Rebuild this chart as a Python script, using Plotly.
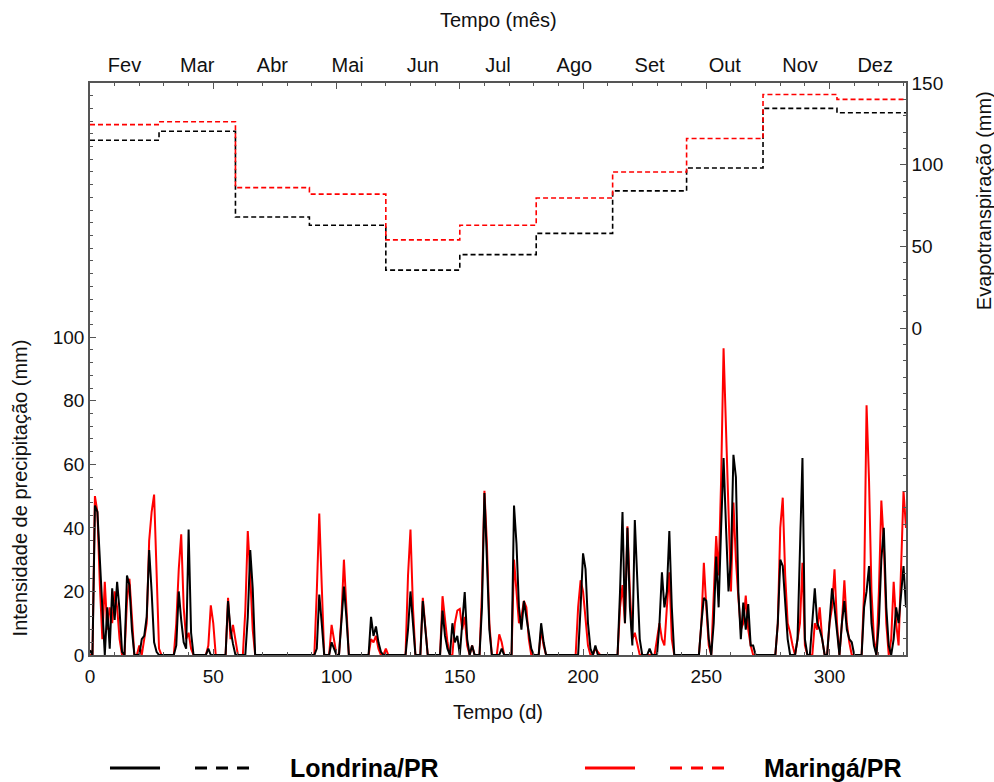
import plotly.graph_objects as go

# ---------------- data ----------------
days_range_end = 331

month_labels = ["Fev", "Mar", "Abr", "Mai", "Jun", "Jul", "Ago", "Set", "Out", "Nov", "Dez"]
month_start_day = [0, 28, 59, 89, 120, 150, 181, 212, 242, 273, 303]
month_end_day = 331

et_londrina = [115, 120.5, 68, 63, 35.5, 45, 58, 84, 98, 134.5, 131.8]
et_maringa = [124.5, 126.3, 86, 82, 54, 63, 79.6, 95.5, 116, 143, 140]

# daily precipitation (non-zero days), Londrina/PR
lon_days = [0, 2, 3, 4, 5, 7, 8, 9, 10, 11, 12, 13, 15, 16, 17, 21, 22, 23, 24, 25, 26, 27,
            35, 36, 37, 38, 39, 40, 41, 48, 56, 57, 58, 64, 65, 66, 92, 93, 94, 98, 99,
            102, 103, 104, 114, 115, 116, 117, 118, 129, 130, 131, 135, 136, 143, 144, 145,
            147, 148, 149, 151, 152, 153, 155, 159, 160, 161, 162, 167,
            172, 173, 174, 175, 176, 177, 178, 179, 183, 184,
            199, 200, 201, 202, 203, 205, 215, 216, 217, 218, 219, 220, 221, 222, 223, 227,
            231, 232, 233, 234, 235, 236, 248, 249, 250, 251,
            253, 254, 255, 256, 257, 258, 259, 260, 261, 262, 263, 264, 265, 266, 267, 268, 269,
            279, 280, 281, 282, 283, 287, 288, 289, 290, 293, 294, 295, 296, 297,
            300, 301, 302, 303, 305, 306, 307, 308, 309, 314, 315, 316, 317, 318,
            320, 321, 322, 323, 324, 326, 327, 328, 329, 330, 331]
lon_mm = [1.5, 47, 45, 30, 15, 15, 2, 21, 11, 23, 14, 1, 25, 22, 8, 5, 6, 12, 33, 20, 4, 1,
          3, 20, 11, 4, 2, 39.5, 7, 2, 17, 8, 3.5, 12, 33, 21, 2, 19, 10, 4, 2,
          10, 21.5, 12, 12, 6, 9, 4, 1, 8, 20, 10, 17, 8, 14, 6, 2,
          10, 4, 6, 10, 19.8, 5, 3, 15, 51, 30, 8, 2,
          47, 35, 15, 8, 17, 12, 8, 2, 10, 4,
          15, 32, 27, 10, 2, 3, 20, 45, 10, 40, 15, 3, 42.5, 25, 5, 2,
          10, 26, 15, 20, 39, 15, 10, 18, 17, 5,
          10, 31, 15, 40, 62, 40, 20, 30, 63, 56, 20, 5, 16.5, 8, 16, 3, 3,
          10, 30, 28, 15, 5, 5, 30, 62, 5, 10, 21, 10, 8, 5,
          10, 21, 15, 8, 10, 17, 8, 5, 4, 15, 20, 28, 10, 3,
          10, 30, 40, 15, 3, 5, 15, 10, 20, 28, 15]

# daily precipitation (non-zero days), Maringá/PR
mar_days = [2, 3, 4, 5, 6, 7, 8, 9, 10, 11, 12, 15, 16, 17, 20, 22, 23, 24, 25, 26, 27, 28,
            35, 36, 37, 38, 39, 40, 41, 48, 49, 50, 56, 57, 58, 59, 63, 64, 65, 66,
            92, 93, 94, 98, 99, 102, 103, 104, 114, 115, 116, 117, 120,
            129, 130, 131, 135, 136, 143, 144, 145, 148, 149, 150, 151, 152, 153, 155,
            159, 160, 161, 162, 166, 167, 172, 173, 174, 175, 176, 177, 178, 183, 184,
            198, 199, 200, 201, 202, 205, 206, 215, 216, 217, 218, 219, 220, 221, 222,
            230, 231, 232, 233, 234, 235, 236, 248, 249, 250, 251,
            253, 254, 255, 256, 257, 258, 259, 260, 261, 262, 263, 264, 265, 266, 267, 268,
            279, 280, 281, 282, 283, 284, 285, 287, 288, 289, 290, 294, 295, 296, 297,
            300, 301, 302, 303, 305, 306, 307, 308, 314, 315, 316, 317, 318,
            320, 321, 322, 323, 325, 326, 327, 328, 329, 330, 331]
mar_mm = [50, 45, 22, 5, 23, 8, 15, 10, 20, 15, 5, 17, 24, 10, 3, 5, 10, 36, 45, 50.5, 25, 2,
          10, 27, 38, 15, 5, 7, 2, 3, 15.6, 10, 18, 5, 9.5, 5, 14, 39, 25, 8,
          20, 44.5, 22, 9.5, 5, 12, 30, 15, 5, 4, 6, 2, 2,
          25, 39.5, 15, 18, 10, 18.5, 10, 4, 10, 14, 14.5, 8, 12, 3, 3,
          20, 51.7, 35, 10, 6.5, 4, 30, 20, 10, 12, 17, 15, 5, 8, 3,
          15, 23.5, 20, 12, 3, 2, 1, 15, 22, 10, 40.5, 20, 5, 7, 3,
          5, 10, 5, 3, 15, 26, 5, 10, 29, 15, 3,
          20, 37.4, 25, 55, 96.5, 71, 40, 20, 48, 30, 18, 8, 10, 18.7, 8, 3,
          10, 40, 49.5, 25, 10, 7, 3, 5, 10, 29, 3, 10, 8, 15, 5,
          10, 15, 27, 10, 10, 23.5, 10, 4, 20, 78.6, 55, 20, 5,
          20, 48.6, 35, 10, 5, 23, 10, 3, 25, 51.6, 40]

precip_ticks = [0, 20, 40, 60, 80, 100]
et_ticks = [0, 50, 100, 150]


def daily(days_nz, vals_nz, n):
    series = [0.0] * (n + 1)
    for d, v in zip(days_nz, vals_nz):
        series[d] = v
    return series


day_axis = list(range(days_range_end + 1))
lon_daily = daily(lon_days, lon_mm, days_range_end)
mar_daily = daily(mar_days, mar_mm, days_range_end)

step_x = month_start_day + [month_end_day]
lon_step = et_londrina + [et_londrina[-1]]
mar_step = et_maringa + [et_maringa[-1]]
month_centers = [(a + b) / 2 for a, b in zip(month_start_day, month_start_day[1:] + [334])]

# ---------------- figure ----------------
RED = "#ff0000"
BLACK = "#000000"
AXIS = "#555555"
FONT = "Liberation Sans, Arial, sans-serif"
TICK = 19
TITLE = 20

fig = go.Figure()

fig.add_trace(go.Scatter(x=day_axis, y=mar_daily, mode="lines",
                         line=dict(color=RED, width=2), showlegend=False))
fig.add_trace(go.Scatter(x=day_axis, y=lon_daily, mode="lines",
                         line=dict(color=BLACK, width=2), showlegend=False))

fig.add_trace(go.Scatter(x=step_x, y=lon_step, mode="lines", line_shape="hv",
                         line=dict(color=BLACK, width=1.6, dash="5px,3px"),
                         xaxis="x2", yaxis="y2", showlegend=False))
fig.add_trace(go.Scatter(x=step_x, y=mar_step, mode="lines", line_shape="hv",
                         line=dict(color=RED, width=1.6, dash="5px,3px"),
                         xaxis="x2", yaxis="y2", showlegend=False))

fig.update_layout(
    width=994, height=782,
    margin=dict(l=90, r=88, t=83, b=127, pad=0),
    paper_bgcolor="white", plot_bgcolor="white",
    font=dict(family=FONT, size=TICK, color="#111"),
    xaxis=dict(range=[0, days_range_end], tickmode="linear", tick0=0, dtick=50,
               ticks="inside", ticklen=6, tickwidth=1, tickcolor=AXIS,
               minor=dict(ticks="inside", tickmode="linear", tick0=0, dtick=10, ticklen=3,
                          tickcolor=AXIS, showgrid=False),
               showline=True, linecolor=AXIS, linewidth=1.5, mirror="ticks",
               showgrid=False, zeroline=False, tickfont=dict(size=TICK),
               ticklabelstandoff=3),
    xaxis2=dict(range=[0, days_range_end], overlaying="x", side="top", anchor="y",
                tickmode="array", tickvals=month_centers, ticktext=month_labels,
                ticks="", showline=False, showgrid=False, zeroline=False,
                tickfont=dict(size=TITLE), ticklabelstandoff=6),
    yaxis=dict(range=[0, 180], tickmode="array", tickvals=precip_ticks,
               ticks="inside", ticklen=6, tickcolor=AXIS,
               minor=dict(ticks="inside", tickmode="linear", tick0=0, dtick=4, ticklen=3,
                          tickcolor=AXIS, showgrid=False),
               showline=True, linecolor=AXIS, linewidth=1.5,
               showgrid=False, zeroline=False, tickfont=dict(size=TICK)),
    yaxis2=dict(range=[-200, 150], overlaying="y", side="right", anchor="x",
                tickmode="array", tickvals=et_ticks,
                ticks="inside", ticklen=6, tickcolor=AXIS,
                minor=dict(ticks="inside", tickmode="linear", tick0=0, dtick=10, ticklen=3,
                           tickcolor=AXIS, showgrid=False),
                showline=True, linecolor=AXIS, linewidth=1.5,
                showgrid=False, zeroline=False, tickfont=dict(size=TICK)),
)

annotations = [
    dict(text="Tempo (mês)", x=0.5, y=1.11, xref="paper", yref="paper",
         showarrow=False, font=dict(size=TITLE), xanchor="center", yanchor="middle"),
    dict(text="Tempo (d)", x=0.5, y=-0.0997, xref="paper", yref="paper",
         showarrow=False, font=dict(size=TITLE), xanchor="center", yanchor="middle"),
    dict(text="Intensidade de precipitação (mm)", x=-0.0858, y=0.293, xref="paper", yref="paper",
         showarrow=False, textangle=-90, font=dict(size=TITLE), xanchor="center", yanchor="middle"),
    dict(text="Evapotranspiração (mm)", x=1.0955, y=0.795, xref="paper", yref="paper",
         showarrow=False, textangle=-90, font=dict(size=TITLE), xanchor="center", yanchor="middle"),
    dict(text="<b>Londrina/PR</b>", x=0.2426, y=-0.1976, xref="paper", yref="paper",
         showarrow=False, font=dict(size=25, color="black"), xanchor="left", yanchor="middle"),
    dict(text="<b>Maringá/PR</b>", x=0.8235, y=-0.1976, xref="paper", yref="paper",
         showarrow=False, font=dict(size=25, color="black"), xanchor="left", yanchor="middle"),
]
fig.update_layout(annotations=annotations)

ly = -0.1976
shapes = [
    dict(type="line", xref="paper", yref="paper", x0=0.0245, x1=0.0858, y0=ly, y1=ly,
         line=dict(color=BLACK, width=3)),
    dict(type="line", xref="paper", yref="paper", x0=0.1287, x1=0.2022, y0=ly, y1=ly,
         line=dict(color=BLACK, width=3, dash="12px,9px")),
    dict(type="line", xref="paper", yref="paper", x0=0.6066, x1=0.6679, y0=ly, y1=ly,
         line=dict(color=RED, width=3)),
    dict(type="line", xref="paper", yref="paper", x0=0.7108, x1=0.7843, y0=ly, y1=ly,
         line=dict(color=RED, width=3, dash="12px,9px")),
]
fig.update_layout(shapes=shapes)

fig.write_html("out.html", config={"displayModeBar": False},
               post_script="document.body.style.margin='0';document.body.style.overflow='hidden';")
